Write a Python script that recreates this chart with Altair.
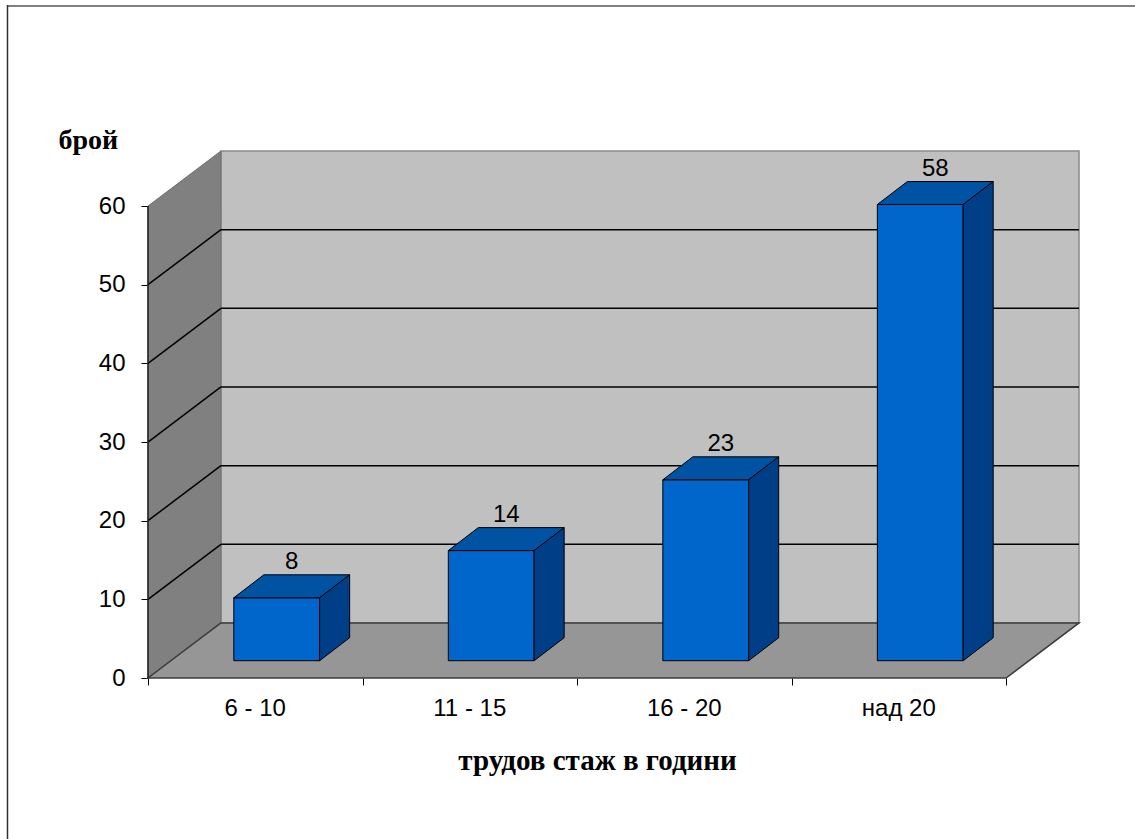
import altair as alt
import pandas as pd

# Source values
categories = ["6 - 10", "11 - 15", "16 - 20", "над 20"]
counts = [8, 14, 23, 58]
y_ticks = [0, 10, 20, 30, 40, 50, 60]
grid_levels = [10, 20, 30, 40, 50]

# 3D box geometry (in data units: x = category slots, y = count units)
Y_MAX = 60
WALL_DX = 0.34      # depth offset of the back wall, horizontal
WALL_DY = 7.0       # depth offset of the back wall, vertical
BAR_W = 0.40        # bar width as a fraction of a category slot
BAR_SX = 0.10       # bar front face offset into the depth
BAR_SY = 2.2
BAR_DX = 0.14       # bar depth
BAR_DY = 2.92
N = len(categories)

PLOT_W, PLOT_H = 931, 527
X_SCALE = alt.Scale(domain=[0, N + WALL_DX], nice=False, zero=False)
Y_SCALE = alt.Scale(domain=[0, Y_MAX + WALL_DY], nice=False, zero=False)

FRONT = "#0066cc"
TOP = "#0052a3"
SIDE = "#003f87"
SANS = "Liberation Sans"
SERIF = "Liberation Serif"

X_AXIS = alt.Axis(values=list(range(N + 1)), labels=False, tickSize=7, tickColor="black",
                  tickWidth=1, domain=False, grid=False,
                  title="трудов стаж в години", titleFont=SERIF,
                  titleFontSize=29, titleFontWeight="bold", titleColor="black",
                  titleX=449, titleY=91, titleAlign="center", titleBaseline="alphabetic")
Y_AXIS = alt.Axis(values=y_ticks, tickSize=7, tickColor="black", tickWidth=1,
                  domain=False, grid=False, labelFont=SANS,
                  labelFontSize=24, labelColor="black", labelPadding=16,
                  title="брой", titleFont=SERIF, titleFontSize=28,
                  titleFontWeight="bold", titleColor="black", titleAngle=0,
                  titleX=-90, titleY=-3, titleAlign="left",
                  titleBaseline="alphabetic")


def xq(field="x"):
    return alt.X(f"{field}:Q", scale=X_SCALE, axis=X_AXIS)


def yq(field="y"):
    return alt.Y(f"{field}:Q", scale=Y_SCALE, axis=Y_AXIS)


# Back wall
back = pd.DataFrame([{"x": WALL_DX, "x2": N + WALL_DX, "y": WALL_DY, "y2": Y_MAX + WALL_DY}])
back_wall = alt.Chart(back).mark_rect(fill="#c0c0c0", stroke="#8a8a8a", strokeWidth=1.5).encode(
    x=xq(), x2="x2:Q", y=yq(), y2="y2:Q")

# Left side wall (vertical-sided parallelogram)
left = pd.DataFrame([
    {"x": 0, "y": 0, "y2": Y_MAX, "k": "w"},
    {"x": WALL_DX, "y": WALL_DY, "y2": Y_MAX + WALL_DY, "k": "w"},
])
left_wall = alt.Chart(left).mark_area(orient="vertical", fill="#808080", stroke="#707070",
                                      strokeWidth=1).encode(
    x=xq(), y=yq(), y2="y2:Q", detail="k:N")

# Floor (horizontal-sided parallelogram)
floor = pd.DataFrame([
    {"y": 0, "x": 0, "x2": N, "k": "f"},
    {"y": WALL_DY, "x": WALL_DX, "x2": N + WALL_DX, "k": "f"},
])
floor_mark = alt.Chart(floor).mark_area(orient="horizontal", fill="#969696", stroke="#3c3c3c",
                                        strokeWidth=1.5).encode(
    y=yq(), x=xq(), x2="x2:Q", detail="k:N")

# Gridlines on back and side walls
grid_rows = []
for v in grid_levels:
    grid_rows.append({"x": WALL_DX, "x2": N + WALL_DX, "y": v + WALL_DY, "y2": v + WALL_DY})
    grid_rows.append({"x": 0, "x2": WALL_DX, "y": v, "y2": v + WALL_DY})
grid = alt.Chart(pd.DataFrame(grid_rows)).mark_rule(color="black", strokeWidth=1.5).encode(
    x=xq(), x2="x2:Q", y=yq(), y2="y2:Q")

# Value axis line along the front edge of the side wall
axis_line = alt.Chart(pd.DataFrame([{"x": 0, "y": 0, "y2": Y_MAX}])).mark_rule(
    color="#202020", strokeWidth=1.5).encode(x=xq(), y=yq(), y2="y2:Q")

# Bars
front_rows, top_rows, side_rows, label_rows, cat_rows = [], [], [], [], []
for i, (cat, v) in enumerate(zip(categories, counts)):
    x0 = i + 0.5 - BAR_W / 2 + BAR_SX
    x1 = x0 + BAR_W
    front_rows.append({"x": x0, "x2": x1, "y": BAR_SY, "y2": v + BAR_SY, "c": cat})
    top_rows += [
        {"y": v + BAR_SY, "x": x0, "x2": x1, "c": cat},
        {"y": v + BAR_SY + BAR_DY, "x": x0 + BAR_DX, "x2": x1 + BAR_DX, "c": cat},
    ]
    side_rows += [
        {"x": x1, "y": BAR_SY, "y2": v + BAR_SY, "c": cat},
        {"x": x1 + BAR_DX, "y": BAR_SY + BAR_DY, "y2": v + BAR_SY + BAR_DY, "c": cat},
    ]
    label_rows.append({"x": (x0 + x1) / 2 + BAR_DX / 2, "y": v + BAR_SY + BAR_DY, "t": str(v)})
    cat_rows.append({"x": i + 0.5, "y": 0, "t": cat})

bar_front = alt.Chart(pd.DataFrame(front_rows)).mark_rect(
    fill=FRONT, stroke="black", strokeWidth=1).encode(x=xq(), x2="x2:Q", y=yq(), y2="y2:Q")
bar_top = alt.Chart(pd.DataFrame(top_rows)).mark_area(
    orient="horizontal", fill=TOP, stroke="black", strokeWidth=1).encode(
    y=yq(), x=xq(), x2="x2:Q", detail="c:N")
bar_side = alt.Chart(pd.DataFrame(side_rows)).mark_area(
    orient="vertical", fill=SIDE, stroke="black", strokeWidth=1).encode(
    x=xq(), y=yq(), y2="y2:Q", detail="c:N")

value_labels = alt.Chart(pd.DataFrame(label_rows)).mark_text(
    font=SANS, fontSize=24, color="black", baseline="alphabetic", dy=-6,
    align="center").encode(x=xq(), y=yq(), text="t:N")

cat_labels = alt.Chart(pd.DataFrame(cat_rows)).mark_text(
    font=SANS, fontSize=24, color="black", baseline="alphabetic", dy=38,
    align="center").encode(x=xq(), y=yq(), text="t:N")

# Outer frame (top and left edges)
frame_top = alt.Chart(pd.DataFrame([{"a": 0}])).mark_rule(color="#808080", strokeWidth=2).encode(
    x=alt.value(-141), x2=alt.value(PLOT_W + 60), y=alt.value(-145))
frame_left = alt.Chart(pd.DataFrame([{"a": 0}])).mark_rule(color="#303030", strokeWidth=1.5).encode(
    x=alt.value(-140.5), y=alt.value(-146), y2=alt.value(PLOT_H + 170))

chart = alt.layer(
    back_wall, left_wall, floor_mark, grid, axis_line,
    bar_front, bar_top, bar_side, value_labels, cat_labels, frame_top, frame_left,
).properties(
    width=PLOT_W, height=PLOT_H,
    autosize=alt.AutoSizeParams(type="none"),
    padding={"left": 148, "top": 151, "right": 56, "bottom": 161},
    background="white",
).configure_view(stroke=None, clip=False)

chart.save("out.html", embed_options={"renderer": "svg", "actions": False})
